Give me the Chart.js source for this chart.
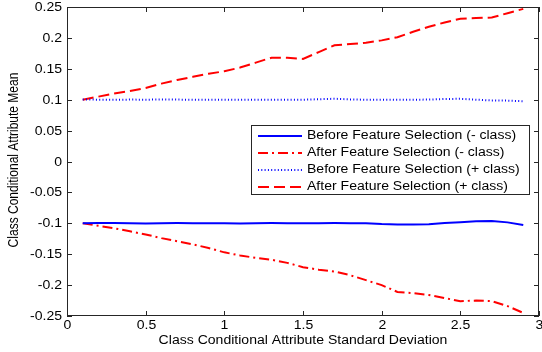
<!DOCTYPE html>
<html>
<head>
<meta charset="utf-8">
<script src="https://cdn.jsdelivr.net/npm/chart.js@4/dist/chart.umd.min.js"></script>
<style>
    html, body { margin: 0; padding: 0; background: #fff; }
    #wrap { width: 542px; height: 352px; }
</style>
</head>
<body>
<div id="wrap"><canvas id="meanChart"></canvas></div>
<script>
// standard deviation steps (x axis)
var stdDev = [0.1, 0.2, 0.3, 0.4, 0.5, 0.6, 0.7, 0.8, 0.9, 1.0,
              1.1, 1.2, 1.3, 1.4, 1.5, 1.6, 1.7, 1.8, 1.9, 2.0,
              2.1, 2.2, 2.3, 2.4, 2.5, 2.6, 2.7, 2.8, 2.9];

// class conditional means
var beforeNeg = [-0.100, -0.0995, -0.0995, -0.100, -0.1005, -0.100, -0.0997, -0.0998, -0.0999, -0.100,
                 -0.1002, -0.100, -0.0997, -0.0999, -0.100, -0.0998, -0.0997, -0.0998, -0.100, -0.1012,
                 -0.1018, -0.1018, -0.1015, -0.0995, -0.0982, -0.0968, -0.0962, -0.0985, -0.1028];
var afterNeg = [-0.100, -0.104, -0.108, -0.113, -0.118, -0.124, -0.129, -0.134, -0.140, -0.147,
                -0.152, -0.156, -0.159, -0.164, -0.171, -0.175, -0.178, -0.184, -0.192, -0.200,
                -0.211, -0.213, -0.216, -0.221, -0.226, -0.225, -0.226, -0.234, -0.245];
var beforePos = [0.1005, 0.100, 0.0998, 0.1002, 0.100, 0.1004, 0.1002, 0.0998, 0.0998, 0.100,
                 0.0998, 0.100, 0.0998, 0.0998, 0.0999, 0.1008, 0.1015, 0.1005, 0.0999, 0.0999,
                 0.100, 0.100, 0.1002, 0.1012, 0.1014, 0.100, 0.0988, 0.0985, 0.0975];
var afterPos = [0.100, 0.105, 0.110, 0.114, 0.119, 0.126, 0.132, 0.137, 0.142, 0.146,
                0.152, 0.160, 0.168, 0.168, 0.166, 0.177, 0.188, 0.190, 0.192, 0.196,
                0.201, 0.210, 0.218, 0.225, 0.231, 0.232, 0.233, 0.240, 0.247];

var xTicks = [0, 0.5, 1, 1.5, 2, 2.5, 3];
var yTicks = [0.25, 0.2, 0.15, 0.1, 0.05, 0, -0.05, -0.1, -0.15, -0.2, -0.25];

var seriesNames = ["Before Feature Selection (- class)", "After Feature Selection (- class)",
                   "Before Feature Selection (+ class)", "After Feature Selection (+ class)"];

var FONT = "12px 'Liberation Sans', Arial, sans-serif";
var AXIS = "#262626";
var STRETCH = 1.17; // glyphs are drawn a bit wider than tall

function points(ys) {
    return stdDev.map(function (x, i) { return { x: x, y: ys[i] }; });
}

function label(ctx, text, x, y, rotate) {
    ctx.save();
    ctx.translate(x, y);
    ctx.scale(STRETCH, 1);
    if (rotate) ctx.rotate(-Math.PI / 2);
    ctx.fillText(text, 0, 0);
    ctx.restore();
}

// frame, inward ticks, labels, titles and legend
var matlabAxes = {
    id: "matlabAxes",
    afterDatasetsDraw: function (chart) {
        var ctx = chart.ctx;
        var a = chart.chartArea;
        var xs = chart.scales.x, ys = chart.scales.y;
        var tick = 5;
        ctx.save();
        ctx.strokeStyle = AXIS;
        ctx.lineWidth = 1;
        ctx.strokeRect(a.left + 0.5, a.top + 0.5, a.right - a.left - 1, a.bottom - a.top - 1);

        ctx.fillStyle = "#000";
        ctx.font = FONT;

        ctx.textAlign = "center";
        ctx.textBaseline = "top";
        xTicks.forEach(function (v) {
            var px = Math.round(xs.getPixelForValue(v)) + 0.5;
            ctx.beginPath();
            ctx.moveTo(px, a.bottom); ctx.lineTo(px, a.bottom - tick);
            ctx.moveTo(px, a.top); ctx.lineTo(px, a.top + tick);
            ctx.stroke();
            label(ctx, String(v), px, a.bottom + 4);
        });

        ctx.textAlign = "right";
        ctx.textBaseline = "middle";
        yTicks.forEach(function (v) {
            var py = Math.round(ys.getPixelForValue(v)) + 0.5;
            ctx.beginPath();
            ctx.moveTo(a.left, py); ctx.lineTo(a.left + tick, py);
            ctx.moveTo(a.right, py); ctx.lineTo(a.right - tick, py);
            ctx.stroke();
            label(ctx, String(v), a.left - 5, py);
        });

        // axis titles
        ctx.textAlign = "center";
        ctx.textBaseline = "middle";
        label(ctx, "Class Conditional Attribute Standard Deviation", (a.left + a.right) / 2, 341);
        label(ctx, "Class Conditional Attribute Mean", 14, 160, true);

        // legend box
        var lx = 251, ly = 125, lw = 278, lh = 69;
        ctx.fillStyle = "#fff";
        ctx.fillRect(lx, ly, lw, lh);
        ctx.strokeStyle = AXIS;
        ctx.strokeRect(lx + 0.5, ly + 0.5, lw, lh);
        ctx.textAlign = "left";
        ctx.textBaseline = "middle";
        chart.data.datasets.forEach(function (ds, i) {
            var ry = ly + 11 + i * 17;
            ctx.save();
            ctx.strokeStyle = ds.borderColor;
            ctx.lineWidth = ds.borderWidth;
            ctx.setLineDash(ds.borderDash || []);
            ctx.beginPath();
            ctx.moveTo(258, ry); ctx.lineTo(302, ry);
            ctx.stroke();
            ctx.restore();
            ctx.fillStyle = "#000";
            label(ctx, ds.label, 307, ry);
        });
        ctx.restore();
    }
};

new Chart(document.getElementById("meanChart"), {
    type: "line",
    data: {
        datasets: [
            {
                label: seriesNames[0],
                data: points(beforeNeg),
                borderColor: "#0000FF",
                borderWidth: 2,
                pointRadius: 0
            },
            {
                label: seriesNames[1],
                data: points(afterNeg),
                borderColor: "#FF0000",
                borderWidth: 2,
                borderDash: [10, 4, 2, 4],
                pointRadius: 0
            },
            {
                label: seriesNames[2],
                data: points(beforePos),
                borderColor: "#0000FF",
                borderWidth: 2,
                borderDash: [1, 2.3],
                pointRadius: 0
            },
            {
                label: seriesNames[3],
                data: points(afterPos),
                borderColor: "#FF0000",
                borderWidth: 2,
                borderDash: [11, 5],
                pointRadius: 0
            }
        ]
    },
    options: {
        responsive: true,
        maintainAspectRatio: false,
        animation: false,
        layout: {
            padding: { left: 67, top: 7, right: 3, bottom: 36 }
        },
        scales: {
            x: { type: "linear", min: 0, max: 3, display: false },
            y: { type: "linear", min: -0.25, max: 0.25, display: false }
        },
        plugins: {
            legend: { display: false },
            tooltip: { enabled: false }
        }
    },
    plugins: [matlabAxes]
});
</script>
</body>
</html>
